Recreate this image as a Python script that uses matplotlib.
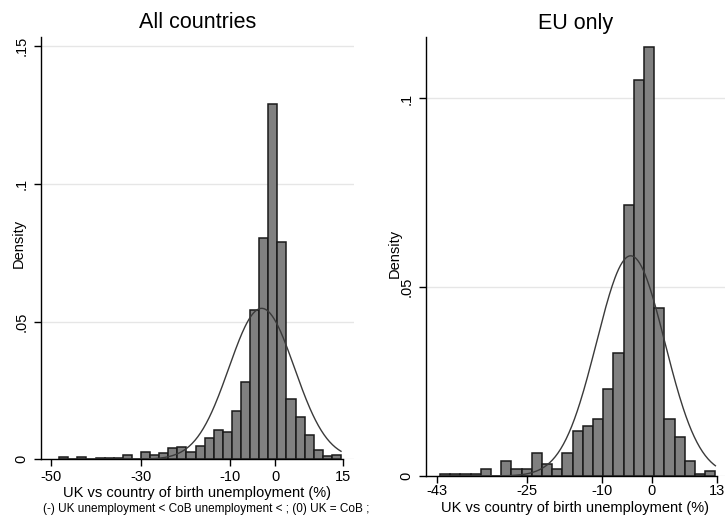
import numpy as np
import matplotlib
matplotlib.use("Agg")
import matplotlib.pyplot as plt

plt.rcParams['font.family'] = ['Liberation Sans', 'DejaVu Sans']

# ---- Histogram data: UK vs country-of-birth unemployment gap (%) ----
# All countries
all_bin_start = -48.08
all_bin_width = 2.021
all_density = [0.0010, 0.0, 0.0010, 0.0, 0.0006, 0.0006, 0.0006, 0.0015, 0.0,
               0.0025, 0.0015, 0.0022, 0.0040, 0.0044, 0.0025, 0.0047, 0.0077,
               0.0105, 0.0100, 0.0175, 0.0280, 0.0542, 0.0804, 0.1288, 0.0789,
               0.0219, 0.0153, 0.0088, 0.0033, 0.0011, 0.0015]
all_mean = -3.07
all_sd = 7.28

# EU only
eu_bin_start = -42.4
eu_bin_width = 2.04
eu_density = [0.0005, 0.0005, 0.0005, 0.0005, 0.0019, 0.0, 0.0039, 0.0019,
              0.0019, 0.0060, 0.0032, 0.0019, 0.0060, 0.0118, 0.0132, 0.0152,
              0.0231, 0.0327, 0.0718, 0.1050, 0.1137, 0.0444, 0.0152, 0.0104,
              0.0040, 0.0006, 0.0013]
eu_mean = -4.26
eu_sd = 6.84

all_xticks = [-50, -30, -10, 0, 15]
eu_xticks = [-43, -25, -10, 0, 13]
all_yticks = [0, 0.05, 0.1, 0.15]
all_yticklabels = ["0", ".05", ".1", ".15"]
eu_yticks = [0, 0.05, 0.1]
eu_yticklabels = ["0", ".05", ".1"]

xlabel = "UK vs country of birth unemployment (%)"
note = "(-) UK unemployment < CoB unemployment < ; (0) UK = CoB ;"

W, H = 726, 516
fig = plt.figure(figsize=(W / 100, H / 100), dpi=100)
fig.patch.set_facecolor("white")


def px_axes(x0, y0, x1, y1):
    """Axes from pixel box (left, top, right, bottom)."""
    return fig.add_axes([x0 / W, 1 - y1 / H, (x1 - x0) / W, (y1 - y0) / H])


def draw_hist(ax, start, width, dens, mu, sd, xlim, ylim, xticks, yticks,
              yticklabels, xpad, title, title_x):
    dens = np.asarray(dens)
    edges = start + width * np.arange(len(dens) + 1)
    ax.bar(edges[:-1], dens, width=width, align='edge', facecolor='#808080',
           edgecolor='#1a1a1a', linewidth=1.1, zorder=3)
    xs = np.linspace(edges[0], edges[-1], 300)
    ys = np.exp(-0.5 * ((xs - mu) / sd) ** 2) / (sd * np.sqrt(2 * np.pi))
    ax.plot(xs, ys, color='#3a3a3a', linewidth=1.0, zorder=4)

    ax.set_xlim(*xlim)
    ax.set_ylim(*ylim)
    ax.set_xticks(xticks)
    ax.set_xticklabels([str(t) for t in xticks])
    ax.set_yticks(yticks)
    ax.set_yticklabels(yticklabels, rotation=90, va='center')
    ax.grid(axis='y', color='#e6e6e6', linewidth=1.0, zorder=0)
    ax.set_axisbelow(True)
    for s in ('top', 'right'):
        ax.spines[s].set_visible(False)
    ax.spines['left'].set_linewidth(1.0)
    ax.spines['bottom'].set_linewidth(1.0)
    ax.spines['bottom'].set_bounds(xlim[0], xticks[-1])
    ax.tick_params(axis='both', direction='out', length=5, width=1.0,
                   colors='black', labelsize=10.5)
    ax.tick_params(axis='x', pad=xpad)
    ax.tick_params(axis='y', pad=4)
    ax.set_facecolor('white')
    fig.text(title_x, 1 - 23 / H, title, ha='center', va='center',
             fontsize=15.5, color='black')


# Left panel: all countries
ax1 = px_axes(40.7, 37, 354, 459.3)
draw_hist(ax1, all_bin_start, all_bin_width, all_density, all_mean, all_sd,
          (-52.2, 17.46), (0, 0.1533), all_xticks, all_yticks,
          all_yticklabels, 3.0, "All countries", (40.7 + 354) / 2 / W)
ax1.set_ylabel("Density", fontsize=10.5, va='center')
ax1.yaxis.set_label_coords((19 - 40.7) / 313.3, (459.3 - 243) / 422.3)
ax1.set_xlabel(xlabel, fontsize=10.5, va='center')
ax1.xaxis.set_label_coords(0.5, (459.3 - 493) / 422.3)

# Right panel: EU only
ax2 = px_axes(425.7, 37.3, 725, 476)
draw_hist(ax2, eu_bin_start, eu_bin_width, eu_density, eu_mean, eu_sd,
          (-45.26, 14.6), (0, 0.1162), eu_xticks, eu_yticks,
          eu_yticklabels, 0.5, "EU only", (425.7 + 725) / 2 / W)
ax2.set_ylabel("Density", fontsize=10.5, va='center')
ax2.yaxis.set_label_coords((395 - 425.7) / 299.3, (476 - 253) / 438.7)
ax2.set_xlabel(xlabel, fontsize=10.5, va='center')
ax2.xaxis.set_label_coords(0.5, (476 - 508) / 438.7)

fig.text(43 / W, 1 - 509 / H, note, ha='left', va='center', fontsize=8.5,
         color='black')

fig.savefig("out.png", dpi=100, facecolor='white')
